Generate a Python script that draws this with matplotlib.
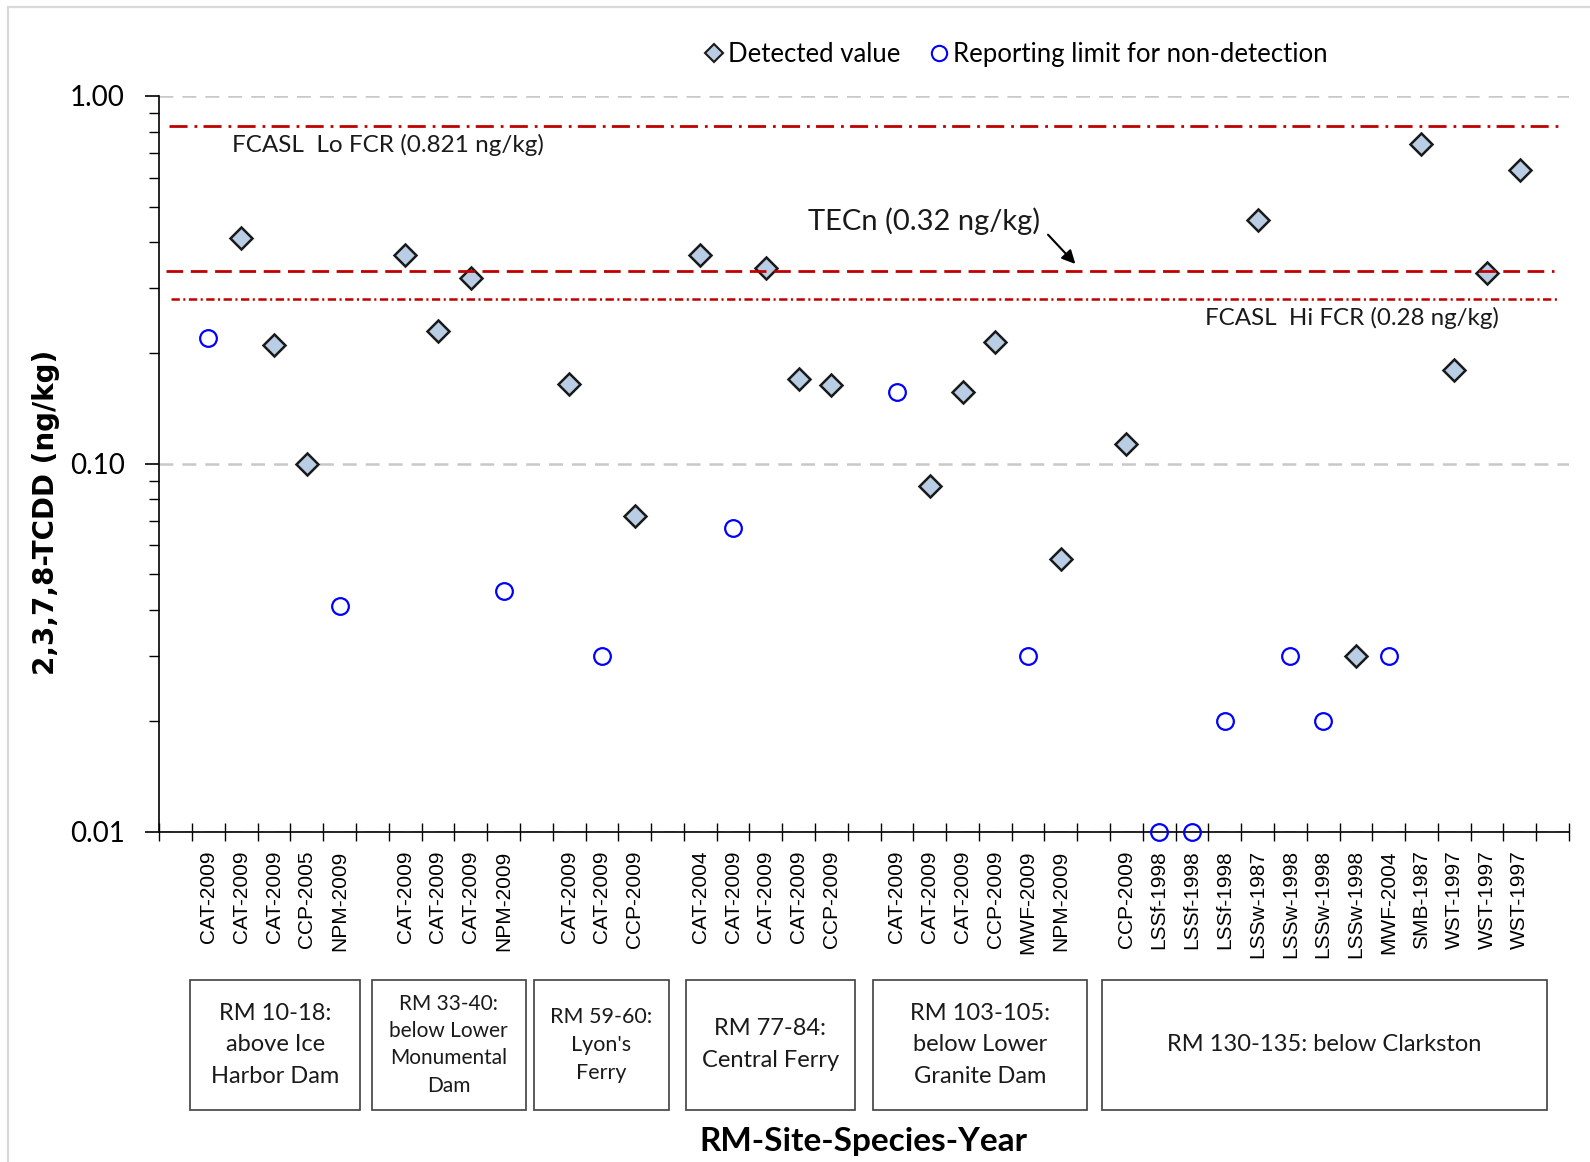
import matplotlib.pyplot as plt
from matplotlib.lines import Line2D
from matplotlib.patches import Rectangle
from matplotlib.transforms import blended_transform_factory
from matplotlib.ticker import FixedLocator, LogLocator, NullFormatter
import numpy as np

plt.rcParams['lines.scale_dashes'] = False

# ---- data (ng/kg) ----
rm10_labels = ["CAT-2009", "CAT-2009", "CAT-2009", "CCP-2005", "NPM-2009"]
rm10_values = [0.22, 0.41, 0.21, 0.10, 0.041]
rm10_detected = [False, True, True, True, False]

rm33_labels = ["CAT-2009", "CAT-2009", "CAT-2009", "NPM-2009"]
rm33_values = [0.37, 0.23, 0.32, 0.045]
rm33_detected = [True, True, True, False]

rm59_labels = ["CAT-2009", "CAT-2009", "CCP-2009"]
rm59_values = [0.165, 0.030, 0.072]
rm59_detected = [True, False, True]

rm77_labels = ["CAT-2004", "CAT-2009", "CAT-2009", "CAT-2009", "CCP-2009"]
rm77_values = [0.37, 0.067, 0.34, 0.17, 0.164]
rm77_detected = [True, False, True, True, True]

rm103_labels = ["CAT-2009", "CAT-2009", "CAT-2009", "CCP-2009", "MWF-2009", "NPM-2009"]
rm103_values = [0.157, 0.087, 0.157, 0.214, 0.030, 0.055]
rm103_detected = [False, True, True, True, False, True]

rm130_labels = ["CCP-2009", "LSSf-1998", "LSSf-1998", "LSSf-1998", "LSSw-1987",
                "LSSw-1998", "LSSw-1998", "LSSw-1998", "MWF-2004", "SMB-1987",
                "WST-1997", "WST-1997", "WST-1997"]
rm130_values = [0.113, 0.010, 0.010, 0.020, 0.46, 0.030, 0.020, 0.030, 0.030,
                0.74, 0.18, 0.33, 0.63]
rm130_detected = [True, False, False, False, True, False, False, True, False,
                  True, True, True, True]

group_names = ["RM 10-18:\nabove Ice\nHarbor Dam",
               "RM 33-40:\nbelow Lower\nMonumental\nDam",
               "RM 59-60:\nLyon's\nFerry",
               "RM 77-84:\nCentral Ferry",
               "RM 103-105:\nbelow Lower\nGranite Dam",
               "RM 130-135: below Clarkston"]

lo_fcr_level = 0.83
tecn_level = 0.335
hi_fcr_level = 0.28

# ---- layout ----
box_x = [(0.45, 5.62), (5.98, 10.68), (10.93, 15.04),
         (15.57, 20.71), (21.26, 27.81), (28.26, 41.83)]
box_fs = [17, 15, 15.5, 17, 17, 17]
box_ls = [1.6, 1.45, 1.5, 1.65, 1.6, 1.6]

RED = '#C00000'
FILL = '#B9CDE5'

groups = [(rm10_labels, rm10_values, rm10_detected),
          (rm33_labels, rm33_values, rm33_detected),
          (rm59_labels, rm59_values, rm59_detected),
          (rm77_labels, rm77_values, rm77_detected),
          (rm103_labels, rm103_values, rm103_detected),
          (rm130_labels, rm130_values, rm130_detected)]

xs, labels, values, detected = [], [], [], []
pos = 1
for lab, val, det in groups:
    xs += list(range(pos, pos + len(lab)))
    labels += lab
    values += val
    detected += det
    pos += len(lab) + 1
n_slots = pos

xs = np.array(xs)
values = np.array(values)
detected = np.array(detected)

fig = plt.figure(figsize=(15.9, 11.62), dpi=100)
ax = fig.add_axes([0.1002, 0.2844, 0.8866, 0.6330])

ax.set_yscale('log')
ax.set_ylim(0.01, 1.0)
ax.set_xlim(-0.5, n_slots - 0.5)

# gridlines
ax.yaxis.grid(True, which='major', color='#C8C8C8', linestyle=(0, (10, 6.5)), lw=1.8, zorder=0)
ax.set_axisbelow(True)

# points
ax.plot(xs[detected], values[detected], ls='none', marker='D', ms=11,
        mfc=FILL, mec='#1a1a1a', mew=1.8, zorder=3, clip_on=False)
ax.plot(xs[~detected], values[~detected], ls='none', marker='o', ms=12,
        mfc='none', mec='#0000FF', mew=1.6, zorder=3, clip_on=False)

# reference lines
ax.axhline(lo_fcr_level, xmin=0.007, xmax=0.992, color=RED, lw=2,
           linestyle=(0, (13, 5, 2, 4.5)), zorder=4)
ax.axhline(tecn_level, xmin=0.005, xmax=0.989, color=RED, lw=2,
           linestyle=(0, (12, 5.5)), zorder=4)
ax.axhline(hi_fcr_level, xmin=0.008, xmax=0.993, color=RED, lw=1.8,
           linestyle=(0, (6, 2.5, 1.5, 2.5)), zorder=4)

ax.text(1.72, 0.736, "FCASL  Lo FCR (0.821 ng/kg)", fontsize=17.5, family='Lato',
        ha='left', va='center', color='#1a1a1a')
ax.text(19.28, 0.457, "TECn (0.32 ng/kg)", fontsize=21, family='Lato',
        ha='left', va='center', color='#1a1a1a')
ax.text(31.39, 0.249, "FCASL  Hi FCR (0.28 ng/kg)", fontsize=17.4, family='Lato',
        ha='left', va='center', color='#1a1a1a')
ax.annotate("", xy=(27.5, 0.345), xytext=(26.55, 0.425),
            arrowprops=dict(arrowstyle='-|>', color='black', lw=1.5, mutation_scale=20))

# axes styling
for s in ['top', 'right']:
    ax.spines[s].set_visible(False)
ax.spines['left'].set_linewidth(1.2)
ax.spines['bottom'].set_linewidth(1.2)

ax.yaxis.set_major_locator(FixedLocator([0.01, 0.1, 1.0]))
ax.set_yticklabels(['0.01', '0.10', '1.00'])
ax.yaxis.set_minor_locator(LogLocator(base=10, subs=np.arange(2, 10)))
ax.yaxis.set_minor_formatter(NullFormatter())
ax.tick_params(axis='y', which='major', length=10, width=1.2, pad=15, labelsize=20)
ax.tick_params(axis='y', which='minor', length=7, width=1.0)
for t in ax.get_yticklabels():
    t.set_family('Lato')

ax.set_xticks(np.arange(-0.5, n_slots, 1))
ax.set_xticklabels([])
ax.set_xticks(xs, minor=True)
ax.set_xticklabels(labels, minor=True, rotation=90, fontsize=15,
                   family='Liberation Sans', va='top', ha='center')
ax.tick_params(axis='x', which='major', direction='inout', length=12.5, width=1.0)
ax.tick_params(axis='x', which='minor', length=0, pad=13.5)

# group boxes
trans = blended_transform_factory(ax.transData, ax.transAxes)
top, bot = -0.202, -0.378
for (x0, x1), name, fs, ls in zip(box_x, group_names, box_fs, box_ls):
    ax.add_patch(Rectangle((x0, bot), x1 - x0, top - bot, transform=trans,
                           fill=False, edgecolor='#404040', lw=1.2, clip_on=False))
    ax.text((x0 + x1) / 2, (top + bot) / 2, name, transform=trans, ha='center',
            va='center', fontsize=fs, family='Lato', linespacing=ls,
            multialignment='center', color='#1a1a1a')

# legend
handles = [Line2D([], [], ls='none', marker='D', ms=9, mfc=FILL, mec='#1a1a1a', mew=1.5),
           Line2D([], [], ls='none', marker='o', ms=11, mfc='none', mec='#0000FF', mew=1.5)]
fig.legend(handles, ["Detected value", "Reporting limit for non-detection"],
           loc='center', bbox_to_anchor=(0.638, 0.9535), ncol=2, frameon=False,
           handletextpad=0.05, columnspacing=1.0, handlelength=1.0,
           prop={'family': 'Lato', 'size': 18.5})

# axis titles
fig.text(0.5433, 0.018, "RM-Site-Species-Year", fontsize=24, fontweight='bold',
         family='Lato', ha='center', va='center')
fig.text(0.029, 0.5594, "2,3,7,8-TCDD (ng/kg)", fontsize=20, fontweight='bold',
         family='DejaVu Sans', rotation=90, ha='center', va='center')

# outer border
fig.add_artist(Rectangle((0.0053, -0.05), 1.1, 1.044, transform=fig.transFigure,
                         fill=False, edgecolor='#D9D9D9', lw=1.6))

fig.savefig('out.png', dpi=100)
